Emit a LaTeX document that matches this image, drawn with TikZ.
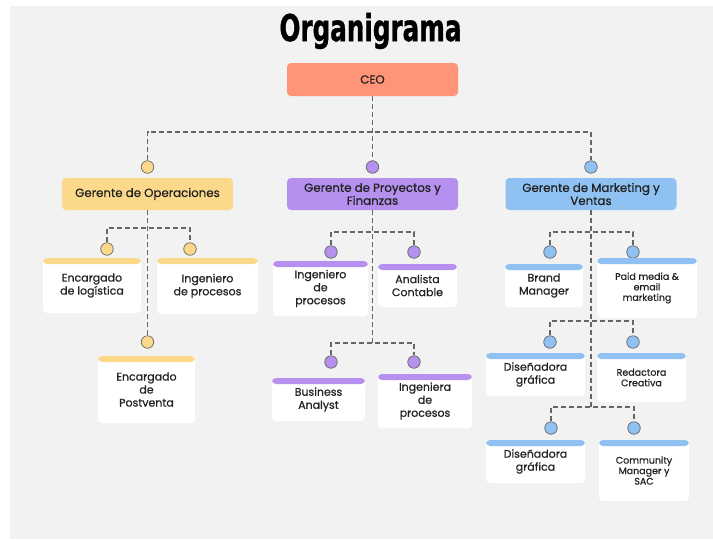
\documentclass[tikz,border=0pt]{standalone}
\usepackage{fontspec}
\usepackage{graphicx}
\setmainfont{Poppins}[FakeBold=0.7]
\newfontfamily\titlefont{DejaVu Sans Condensed}[FakeBold=1.2]

\definecolor{bggray}{HTML}{F2F2F2}
\definecolor{ceocol}{HTML}{FF9478}
\definecolor{opcol}{HTML}{FCD98A}
\definecolor{pfcol}{HTML}{B590EE}
\definecolor{mkcol}{HTML}{8FC1F2}
\definecolor{linecol}{HTML}{666666}
\definecolor{textcol}{HTML}{222222}

\tikzset{
    conn/.style={draw=linecol, line width=1.2pt, dash pattern=on 5pt off 3pt},
    headbox/.style={rounded corners=4pt, fill=#1, minimum width=171pt, minimum height=32pt,
        align=center, text=textcol, font=\fontsize{11.8}{13}\selectfont},
    dot/.style={circle, fill=#1, draw=gray!80!black, line width=0.7pt, minimum size=12.5pt, inner sep=0pt},
    card/.style={rounded corners=4pt, fill=white, align=center, text=textcol, inner sep=2pt,
        font=\fontsize{11}{13}\selectfont,
        path picture={\fill[#1] (path picture bounding box.north west) rectangle ([yshift=-6pt]path picture bounding box.north east);}},
    small/.style={font=\fontsize{9.5}{10.5}\selectfont}
}

\begin{document}
\begin{tikzpicture}[x=1pt, y=-1pt]
    \useasboundingbox (0,0) rectangle (713,539);
    \fill[bggray] (10,6) rectangle (713,539);

    % title and ceo
    \node (title) at (370.5,31) {\titlefont\bfseries\fontsize{37}{40}\selectfont\scalebox{0.74}[1]{Organigrama}};
    \node[headbox=ceocol, minimum height=33pt] (ceo) at (372.5,79.5) {CEO};

    % managers
    \node[dot=opcol] (d1) at (147.5,167) {};
    \node[dot=pfcol] (d2) at (372.5,167) {};
    \node[dot=mkcol] (d3) at (591,167) {};
    \node[headbox=opcol] (op) at (147.5,194) {Gerente de Operaciones};
    \node[headbox=pfcol] (pf) at (372.5,194) {Gerente de Proyectos y\\Finanzas};
    \node[headbox=mkcol] (mk) at (591,194) {Gerente de Marketing y\\Ventas};

    \coordinate (bus) at (372.5,132);
    \draw[conn] (ceo.south) -- (d2.north);
    \draw[conn] (d1.north) |- (bus) -| (d3.north);

    % operaciones
    \node[dot=opcol] (dlog) at (107,249) {};
    \node[dot=opcol] (dingop) at (190,249) {};
    \node[dot=opcol] (dpv) at (147.5,342) {};
    \node[card=opcol, minimum width=98pt, minimum height=55pt] (log) at (92,285.5) {Encargado\\de logística};
    \node[card=opcol, minimum width=101pt, minimum height=56pt] (ingop) at (207.5,286) {Ingeniero\\de procesos};
    \node[card=opcol, minimum width=97pt, minimum height=67pt] (pv) at (146.5,389.5) {Encargado\\de\\Postventa};

    \coordinate (opbr) at (147.5,228);
    \draw[conn] (op.south) -- (dpv.north);
    \draw[conn] (dlog.north) |- (opbr) -| (dingop.north);

    % proyectos y finanzas
    \node[dot=pfcol] (dingpf) at (331,252) {};
    \node[dot=pfcol] (danal) at (414,252) {};
    \node[dot=pfcol] (dbus) at (331,362) {};
    \node[dot=pfcol] (dinga) at (414,362) {};
    \node[card=pfcol, minimum width=95pt, minimum height=55pt] (ingpf) at (320.5,288.5) {Ingeniero\\de\\procesos};
    \node[card=pfcol, minimum width=79pt, minimum height=43pt] (anal) at (417.5,285.5) {Analista\\Contable};
    \node[card=pfcol, minimum width=93pt, minimum height=43pt] (bus2) at (318.5,399.5) {Business\\Analyst};
    \node[card=pfcol, minimum width=94pt, minimum height=54pt] (inga) at (425,401) {Ingeniera\\de\\procesos};

    \coordinate (pfbr1) at (372.5,232);
    \coordinate (pfbr2) at (372.5,343);
    \draw[conn] (pf.south) -- (pfbr2);
    \draw[conn] (dingpf.north) |- (pfbr1) -| (danal.north);
    \draw[conn] (dbus.north) |- (pfbr2) -| (dinga.north);

    % marketing y ventas
    \node[dot=mkcol] (dbrand) at (550,252) {};
    \node[dot=mkcol] (dpaid) at (633,252) {};
    \node[dot=mkcol] (ddis1) at (550,342) {};
    \node[dot=mkcol] (dred) at (633,342) {};
    \node[dot=mkcol] (ddis2) at (551,428) {};
    \node[dot=mkcol] (dcm) at (634,428) {};
    \node[card=mkcol, minimum width=78pt, minimum height=43pt] (brand) at (544,285.5) {Brand\\Manager};
    \node[card=mkcol, small, minimum width=100pt, minimum height=60pt] (paid) at (647,288) {Paid media \&\\email\\marketing};
    \node[card=mkcol, minimum width=99pt, minimum height=43pt] (dis1) at (535.5,374.5) {Diseñadora\\gráfica};
    \node[card=mkcol, small, minimum width=89pt, minimum height=49pt] (red) at (641.5,377.5) {Redactora\\Creativa};
    \node[card=mkcol, minimum width=99pt, minimum height=43pt] (dis2) at (535.5,461.5) {Diseñadora\\gráfica};
    \node[card=mkcol, small, minimum width=90pt, minimum height=61pt] (cm) at (644,470.5) {Community\\Manager y\\SAC};

    \coordinate (mkbr1) at (591,232);
    \coordinate (mkbr2) at (591,321);
    \coordinate (mkbr3) at (591,407);
    \draw[conn] (mk.south) -- (mkbr3);
    \draw[conn] (dbrand.north) |- (mkbr1) -| (dpaid.north);
    \draw[conn] (ddis1.north) |- (mkbr2) -| (dred.north);
    \draw[conn] (ddis2.north) |- (mkbr3) -| (dcm.north);
\end{tikzpicture}
\end{document}
